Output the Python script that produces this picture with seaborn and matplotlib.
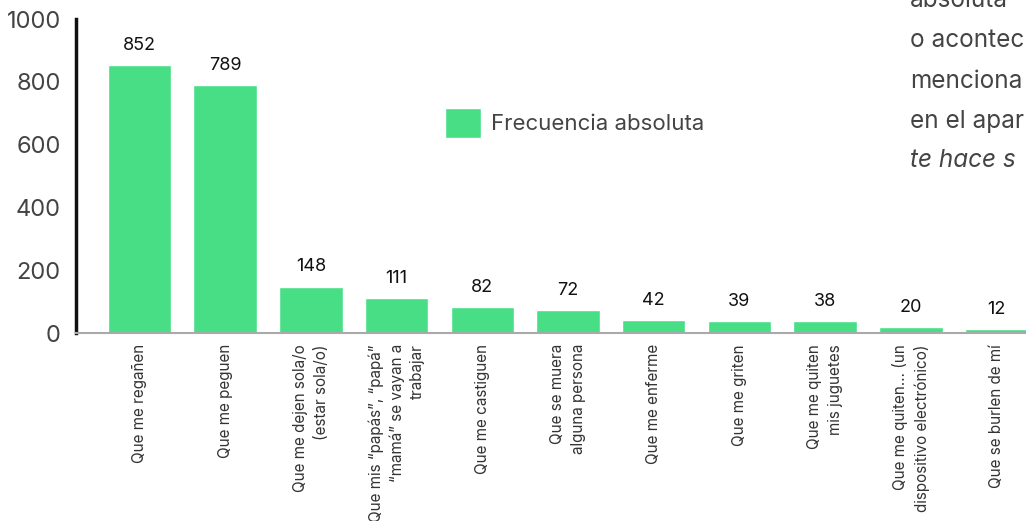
import matplotlib
matplotlib.use("Agg")
import matplotlib.pyplot as plt
import seaborn as sns
import pandas as pd

# datos del grafico
categorias = [
    "Que me regañen",
    "Que me peguen",
    "Que me dejen sola/o\n(estar sola/o)",
    "Que mis “papás”, “papá”\n“mamá” se vayan a\ntrabajar",
    "Que me castiguen",
    "Que se muera\nalguna persona",
    "Que me enferme",
    "Que me griten",
    "Que me quiten\nmis juguetes",
    "Que me quiten… (un\ndispositivo electrónico)",
    "Que se burlen de mí",
]
frecuencias = [852, 789, 148, 111, 82, 72, 42, 39, 38, 20, 12]
serie = "Frecuencia absoluta"
texto_derecha = ["absoluta", "o acontec", "menciona", "en el apar", "te hace s"]

verde = "#47DE86"

df = pd.DataFrame({"categoria": categorias, "frecuencia": frecuencias})
df["serie"] = serie

sns.set_style("white")
plt.rcParams["font.family"] = ["Inter", "DejaVu Sans"]

fig = plt.figure(figsize=(10.26, 5.21), dpi=100)
ax = fig.add_axes([76 / 1026, 188 / 521, 950 / 1026, 314 / 521])

sns.barplot(data=df, x="categoria", y="frecuencia", hue="serie", order=categorias,
            palette=[verde], saturation=1, width=0.74, ax=ax)

for c in ax.containers:
    ax.bar_label(c, padding=8, fontsize=13, color="#111111")

ax.set_xlim(-0.741, 10.344)
ax.set_ylim(0, 1000)
ax.set_yticks([0, 200, 400, 600, 800, 1000])
ax.set_xticks(range(len(categorias)))
ax.set_xticklabels(categorias, rotation=90, ha="center", va="top",
                   multialignment="right", linespacing=1.45)
ax.set_xlabel("")
ax.set_ylabel("")

ax.spines["top"].set_visible(False)
ax.spines["right"].set_visible(False)
ax.spines["left"].set_color("#111111")
ax.spines["left"].set_linewidth(2.5)
ax.spines["bottom"].set_color("#AAAAAA")
ax.spines["bottom"].set_linewidth(1.5)

ax.tick_params(axis="y", direction="in", length=17, width=1.2, color="#888888",
               labelsize=17, labelcolor="#444444", pad=11)
ax.tick_params(axis="x", length=0, pad=8, labelsize=11, labelcolor="#333333")

leg = ax.legend(loc="center left", bbox_to_anchor=(445 / 1026, 1 - 123 / 521),
                bbox_transform=fig.transFigure, frameon=False, fontsize=16,
                handlelength=1.6, handleheight=1.7, handletextpad=0.45,
                borderpad=0, borderaxespad=0)
for t in leg.get_texts():
    t.set_color("#444444")

# texto recortado de la derecha
baselines = [7, 47, 88, 128, 167]
for i, (s, yb) in enumerate(zip(texto_derecha, baselines)):
    fig.text(910 / 1026, 1 - yb / 521, s, fontsize=17.5, color="#444444", va="baseline",
             style="italic" if i == len(texto_derecha) - 1 else "normal")

fig.savefig("out.png", dpi=100)
